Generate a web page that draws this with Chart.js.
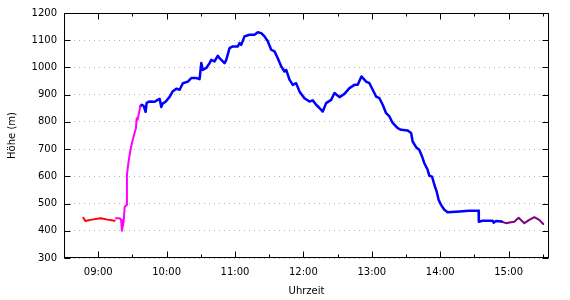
<!DOCTYPE html>
<html>
<head>
<meta charset="utf-8">
<script src="https://cdn.jsdelivr.net/npm/chart.js@4/dist/chart.umd.min.js"></script>
<style>
  body { margin: 0; background: #fff; }
</style>
</head>
<body>
<canvas id="hoehe" width="570" height="300"></canvas>
<script>
// Uhrzeit in Stunden (dezimal), Höhe in m - je Abschnitt der Aufzeichnung
const zeitRot = [8.783, 8.8125, 8.905, 9.036, 9.138, 9.240];
const hoeheRot = [448, 436, 441, 446, 441, 437];

const zeitMagenta = [9.259, 9.3135, 9.335, 9.347, 9.372, 9.387, 9.411, 9.420, 9.4405, 9.464,
    9.493, 9.5325, 9.5515, 9.562, 9.576, 9.591, 9.616];
const hoeheMagenta = [446, 446, 440, 400, 434, 487, 495, 605, 648, 686,
    722, 760, 777, 813, 808, 826, 857];

const zeitBlau = [9.616, 9.635, 9.664, 9.693, 9.708, 9.752, 9.825, 9.869, 9.898, 9.922,
    9.941, 9.985, 10.044, 10.088, 10.142, 10.190, 10.238, 10.311, 10.361, 10.434,
    10.482, 10.507, 10.530, 10.580, 10.628, 10.653, 10.701, 10.749, 10.774, 10.847,
    10.872, 10.920, 10.968, 11.041, 11.066, 11.091, 11.139, 11.212, 11.285, 11.333,
    11.383, 11.431, 11.479, 11.529, 11.577, 11.625, 11.675, 11.723, 11.748, 11.796,
    11.845, 11.894, 11.942, 12.015, 12.088, 12.137, 12.186, 12.234, 12.283, 12.332,
    12.405, 12.454, 12.527, 12.600, 12.673, 12.746, 12.794, 12.848, 12.917, 12.965,
    13.013, 13.063, 13.111, 13.159, 13.209, 13.257, 13.305, 13.378, 13.428, 13.524,
    13.574, 13.597, 13.647, 13.695, 13.734, 13.768, 13.816, 13.841, 13.880, 13.914,
    13.948, 13.977, 14.012, 14.060, 14.108, 14.231, 14.425, 14.561, 14.564, 14.619,
    14.765, 14.780, 14.815, 14.900];
const hoeheBlau = [857, 863, 859, 837, 870, 875, 874, 881, 885, 855,
    867, 874, 892, 912, 922, 918, 942, 948, 961, 961,
    957, 1016, 991, 998, 1016, 1028, 1022, 1043, 1034, 1016,
    1028, 1071, 1077, 1077, 1090, 1083, 1114, 1120, 1120, 1129,
    1126, 1114, 1096, 1065, 1059, 1034, 1004, 985, 991, 955,
    936, 942, 912, 887, 875, 879, 863, 851, 838, 869,
    881, 906, 891, 903, 924, 936, 936, 967, 948, 942,
    918, 893, 887, 863, 832, 820, 796, 777, 771, 768,
    759, 728, 707, 697, 673, 648, 624, 602, 599, 569,
    544, 513, 495, 477, 468, 470, 474, 474, 433, 437,
    437, 430, 436, 434];

const zeitLila = [14.903, 14.961, 15.034, 15.083, 15.146, 15.229, 15.302, 15.375, 15.448, 15.506];
const hoeheLila = [433, 428, 431, 433, 448, 428, 440, 450, 440, 425];

// Achsen
const xTicks = [9, 10, 11, 12, 13, 14, 15];
const xMinorTicks = [9.5, 10.5, 11.5, 12.5, 13.5, 14.5, 15.5];
const yTicks = [300, 400, 500, 600, 700, 800, 900, 1000, 1100, 1200];

const punkte = (zeiten, hoehen) => zeiten.map((t, i) => ({ x: t, y: hoehen[i] }));

const formatZeit = (v) => String(Math.floor(v)).padStart(2, '0') + ':00';

// Rahmen und nach innen zeigende Ticks wie bei gnuplot
const rahmenPlugin = {
    id: 'rahmen',
    afterDraw(chart) {
        const { ctx, chartArea: a, scales: { x, y } } = chart;
        const l = Math.round(a.left) + 0.5, r = Math.round(a.right) - 0.5;
        const t = Math.round(a.top) + 0.5, b = Math.round(a.bottom) - 0.5;
        ctx.save();
        ctx.strokeStyle = '#000';
        ctx.lineWidth = 1;
        ctx.beginPath();
        xTicks.forEach(v => {
            const px = Math.round(x.getPixelForValue(v)) + 0.5;
            ctx.moveTo(px, b); ctx.lineTo(px, b - 6);
            ctx.moveTo(px, t); ctx.lineTo(px, t + 6);
        });
        xMinorTicks.forEach(v => {
            const px = Math.round(x.getPixelForValue(v)) + 0.5;
            ctx.moveTo(px, b); ctx.lineTo(px, b - 3);
            ctx.moveTo(px, t); ctx.lineTo(px, t + 3);
        });
        yTicks.forEach(v => {
            const py = Math.round(y.getPixelForValue(v)) + 0.5;
            ctx.moveTo(l, py); ctx.lineTo(l + 6, py);
            ctx.moveTo(r, py); ctx.lineTo(r - 6, py);
        });
        ctx.stroke();
        ctx.strokeRect(l, t, r - l, b - t);
        ctx.restore();
    }
};

const schrift = { family: 'DejaVu Sans', size: 10 };

const linie = (label, daten, farbe, breite) => ({
    label: label,
    data: daten,
    borderColor: farbe,
    borderWidth: breite,
    pointRadius: 0,
    tension: 0,
    borderJoinStyle: 'round',
    borderCapStyle: 'round'
});

new Chart(document.getElementById('hoehe'), {
    type: 'line',
    data: {
        datasets: [
            linie('rot', punkte(zeitRot, hoeheRot), '#ff0000', 2),
            linie('magenta', punkte(zeitMagenta, hoeheMagenta), '#ff00ff', 2),
            linie('blau', punkte(zeitBlau, hoeheBlau), '#0000ff', 2.5),
            linie('lila', punkte(zeitLila, hoeheLila), '#800080', 2)
        ]
    },
    options: {
        responsive: false,
        animation: false,
        devicePixelRatio: 1,
        layout: { padding: { top: 13, right: 21, left: 0, bottom: 0 } },
        plugins: {
            legend: { display: false },
            tooltip: { enabled: false }
        },
        scales: {
            x: {
                type: 'linear',
                min: 8.5,
                max: 15.59,
                afterBuildTicks: (s) => { s.ticks = xTicks.map(v => ({ value: v })); },
                afterFit: (s) => { s.height = 42; },
                grid: { display: false, drawTicks: false },
                border: { display: false },
                ticks: {
                    color: '#000',
                    font: schrift,
                    padding: 8,
                    maxRotation: 0,
                    callback: (v) => formatZeit(v)
                },
                title: {
                    display: true,
                    text: 'Uhrzeit',
                    color: '#000',
                    font: schrift,
                    padding: { top: 3, bottom: 3 }
                }
            },
            y: {
                min: 300,
                max: 1200,
                afterBuildTicks: (s) => { s.ticks = yTicks.map(v => ({ value: v })); },
                afterFit: (s) => { s.width = 64; },
                grid: { color: '#b4b4b4', drawTicks: false, lineWidth: 1 },
                border: { display: false, dash: [1, 4] },
                ticks: {
                    color: '#000',
                    font: schrift,
                    padding: 7,
                    callback: (v) => String(v)
                },
                title: {
                    display: true,
                    text: 'Höhe (m)',
                    color: '#000',
                    font: schrift,
                    padding: { top: 6, bottom: 6 }
                }
            }
        }
    },
    plugins: [rahmenPlugin]
});
</script>
</body>
</html>
